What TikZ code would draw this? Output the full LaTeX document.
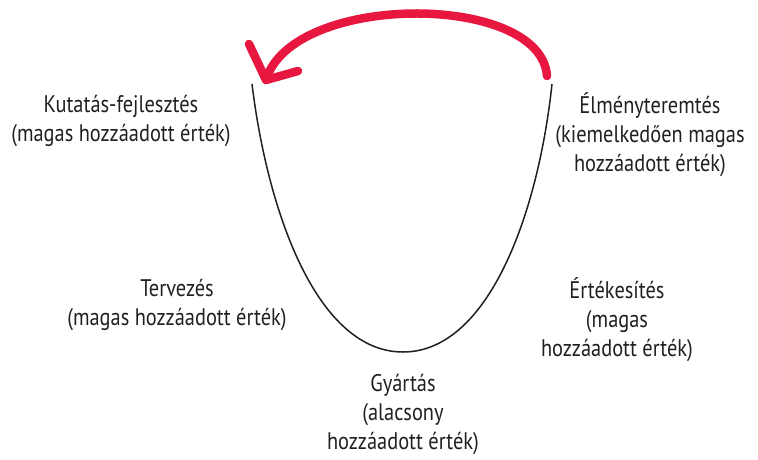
\documentclass[tikz,border=0pt]{standalone}
\usepackage{fontspec}
\setmainfont[FakeStretch=0.85]{PT Sans}
\definecolor{arrowred}{HTML}{E8173F}
\definecolor{textgray}{HTML}{231F20}
\tikzset{
  label/.style={align=center,text=textgray,font=\fontsize{24}{29}\selectfont,inner sep=0pt},
  redarrow/.style={draw=arrowred,line width=8.5pt,line cap=round,line join=round}
}
\begin{document}
\begin{tikzpicture}[x=1pt,y=-1pt]
\useasboundingbox (0,0) rectangle (758,459);

\node[label] (kutatas) at (121,121) {Kutatás-fejlesztés\\(magas hozzáadott érték)};
\node[label] (tervezes) at (177,305) {Tervezés\\(magas hozzáadott érték)};
\node[label] (gyartas) at (403,414) {Gyártás\\(alacsony\\hozzáadott érték)};
\node[label] (ertekesites) at (617,320) {Értékesítés\\(magas\\hozzáadott érték)};
\node[label] (elmeny) at (650,135) {Élményteremtés\\(kiemelkedően magas\\hozzáadott érték)};

\coordinate (utopleft) at (252,84);
\coordinate (ubottom) at (403,352);
\coordinate (utopright) at (552,84);
\draw[textgray,line width=1.5pt] (utopleft) .. controls (268,215) and (318,352) .. (ubottom)
  .. controls (488,352) and (538,215) .. (utopright);

% red arrow
\coordinate (arcstart) at (547,76);
\coordinate (tip) at (266,80);
\draw[redarrow] (arcstart) .. controls (541,-8) and (292,-8) .. (tip);
\draw[redarrow] (249,44) -- (tip) -- (298,71);
\end{tikzpicture}
\end{document}
